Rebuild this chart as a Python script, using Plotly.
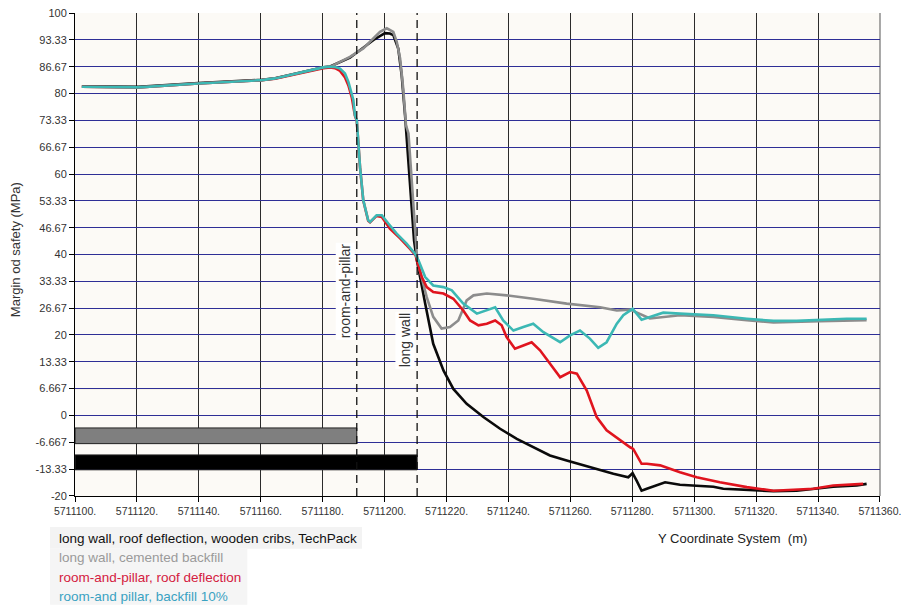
import plotly.graph_objects as go

# ---------------- data ----------------
BLACK_X = [5711102.2, 5711120.5, 5711139.8, 5711160.3, 5711164.6, 5711172.0, 5711180.2, 5711182.4,
           5711188.8, 5711196.4, 5711200.1, 5711201.7, 5711202.8, 5711204.4, 5711205.5, 5711206.6,
           5711208.2, 5711209.5, 5711210.4, 5711211.4, 5711213.1, 5711215.7, 5711219.0, 5711222.2,
           5711226.5, 5711231.9, 5711237.3, 5711242.7, 5711248.0, 5711253.4, 5711258.8, 5711264.2,
           5711269.6, 5711273.9, 5711278.7, 5711280.1, 5711281.4, 5711283.0, 5711284.7, 5711290.6,
           5711295.4, 5711299.7, 5711306.2, 5711309.4, 5711317.0, 5711325.6, 5711333.1, 5711339.6,
           5711344.9, 5711352.5, 5711355.7]
BLACK_Y = [81.8, 81.7, 82.6, 83.4, 83.8, 85.1, 86.5, 86.7,
           88.9, 93.3, 95.0, 94.9, 94.5, 91.2, 84.6, 74.6,
           58.5, 43.5, 38.6, 34.4, 27.8, 17.8, 11.2, 6.6,
           2.9, -0.4, -3.3, -5.8, -7.9, -9.95, -11.2, -12.4,
           -13.7, -14.5, -15.35, -14.35, -16.2, -18.7, -18.2, -16.6,
           -17.2, -17.4, -17.7, -18.2, -18.5, -18.8, -18.7, -18.2,
           -17.7, -17.4, -17.0]

GRAY_X = [5711102.2, 5711120.5, 5711139.8, 5711160.3, 5711164.6, 5711172.0, 5711180.2, 5711182.4,
          5711188.8, 5711193.1, 5711196.4, 5711198.5, 5711200.7, 5711202.8, 5711203.9, 5711205.0,
          5711206.0, 5711206.9, 5711207.7, 5711208.8, 5711209.8, 5711210.4, 5711211.2, 5711213.6,
          5711215.7, 5711218.4, 5711221.1, 5711223.8, 5711226.5, 5711228.7, 5711233.0, 5711239.4,
          5711248.0, 5711258.8, 5711269.6, 5711275.0, 5711279.3, 5711285.7, 5711295.4, 5711306.2,
          5711317.0, 5711325.6, 5711340.6, 5711355.7]
GRAY_Y = [81.67, 81.52, 82.51, 83.33, 83.76, 85.1, 86.49, 86.64,
          89.1, 91.2, 93.7, 95.35, 96.2, 95.3, 92.9, 88.7,
          81.3, 72.1, 70.1, 57.6, 45.2, 40.0, 36.5, 29.4,
          24.5, 21.6, 22.0, 23.6, 28.6, 29.85, 30.3, 29.85,
          29.0, 27.8, 26.9, 26.1, 26.3, 24.1, 24.9, 24.5,
          23.7, 23.1, 23.4, 23.7]

RED_X = [5711102.2, 5711120.5, 5711139.8, 5711160.3, 5711164.6, 5711172.0, 5711180.2, 5711182.4,
         5711184.0, 5711185.6, 5711187.2, 5711188.3, 5711189.4, 5711190.4, 5711191.0, 5711192.05,
         5711193.1, 5711194.7, 5711195.3, 5711197.4, 5711199.1, 5711201.7, 5711205.0, 5711208.2,
         5711210.0, 5711210.4, 5711212.0, 5711213.6, 5711215.7, 5711219.0, 5711222.2, 5711225.4,
         5711227.6, 5711230.3, 5711233.0, 5711235.7, 5711237.8, 5711239.4, 5711242.1, 5711244.8,
         5711247.5, 5711250.2, 5711253.4, 5711256.7, 5711259.9, 5711262.1, 5711265.3, 5711268.5,
         5711271.7, 5711276.0, 5711279.3, 5711280.3, 5711283.0, 5711284.7, 5711289.0, 5711295.4,
         5711300.8, 5711308.3, 5711317.0, 5711325.6, 5711329.9, 5711338.5, 5711344.9, 5711354.6]
RED_Y = [81.67, 81.5, 82.5, 83.33, 83.7, 85.0, 86.3, 86.5,
         86.3, 85.6, 84.0, 82.0, 79.0, 74.5, 73.2, 61.7,
         53.4, 48.4, 48.0, 49.6, 49.3, 46.4, 44.0, 41.4,
         39.8, 38.6, 34.4, 31.9, 30.7, 30.3, 29.0, 26.1,
         23.6, 22.4, 22.8, 23.6, 22.4, 19.5, 16.6, 17.4,
         18.2, 16.2, 12.9, 9.5, 10.8, 10.4, 6.2, -0.4,
         -3.7, -6.2, -7.9, -8.3, -12.0, -12.0, -12.4, -14.1,
         -15.35, -16.6, -17.8, -18.7, -18.5, -18.2, -17.4, -17.0]

TEAL_X = [5711102.2, 5711120.5, 5711139.8, 5711160.3, 5711164.6, 5711172.0, 5711180.2, 5711182.4,
          5711184.0, 5711185.6, 5711187.2, 5711188.3, 5711189.4, 5711189.9, 5711190.4, 5711191.0,
          5711192.05, 5711193.1, 5711194.7, 5711195.3, 5711197.4, 5711199.1, 5711201.2, 5711203.9,
          5711207.1, 5711209.8, 5711210.9, 5711213.1, 5711215.7, 5711219.0, 5711221.7, 5711225.4,
          5711229.8, 5711233.0, 5711235.7, 5711238.3, 5711241.6, 5711244.8, 5711248.0, 5711251.3,
          5711256.7, 5711259.9, 5711263.1, 5711266.3, 5711269.0, 5711271.7, 5711275.0, 5711277.1,
          5711280.1, 5711281.4, 5711283.0, 5711285.7, 5711290.0, 5711295.4, 5711306.2, 5711317.0,
          5711325.6, 5711333.1, 5711340.6, 5711349.3, 5711355.7]
TEAL_Y = [81.67, 81.52, 82.51, 83.33, 83.76, 85.1, 86.49, 86.64,
          86.6, 86.2, 85.0, 82.9, 79.6, 78.4, 74.6, 73.4,
          61.8, 53.5, 48.5, 48.1, 49.75, 49.75, 47.7, 45.2,
          42.7, 40.2, 38.6, 34.4, 32.3, 31.9, 31.1, 27.8,
          25.3, 26.1, 26.9, 23.6, 21.1, 22.0, 22.8, 20.7,
          18.2, 19.9, 21.1, 19.1, 16.8, 18.2, 22.8, 24.9,
          26.5, 25.3, 23.8, 24.45, 25.55, 25.3, 24.9, 24.05,
          23.5, 23.5, 23.8, 24.05, 24.05]

SERIES_NAMES = ["long wall, roof deflection, wooden cribs, TechPack",
                "long wall, cemented backfill",
                "room-and-pillar, roof deflection",
                "room-and pillar, backfill 10%"]

# excavation bars (room-and-pillar, long wall)
BAR_LABELS = ["room-and-pillar", "long wall"]
BAR_START = [5711100.0, 5711100.0]
BAR_END = [5711191.0, 5711210.5]
BAR_TOP = [-3.1, -9.8]
BAR_BOTTOM = [-7.0, -13.5]

X_TICKS = [5711100, 5711120, 5711140, 5711160, 5711180, 5711200, 5711220,
           5711240, 5711260, 5711280, 5711300, 5711320, 5711340, 5711360]
X_TICKTEXT = ["5711100.", "5711120.", "5711140.", "5711160.", "5711180.", "5711200.", "5711220.",
              "5711240.", "5711260.", "5711280.", "5711300.", "5711320.", "5711340.", "5711360."]
Y_TICKS = [-20, -13.333, -6.667, 0, 6.667, 13.333, 20, 26.667, 33.333, 40,
           46.667, 53.333, 60, 66.667, 73.333, 80, 86.667, 93.333, 100]
Y_TICKTEXT = ["-20", "-13.33", "-6.667", "0", "6.667", "13.33", "20", "26.67", "33.33", "40",
              "46.67", "53.33", "60", "66.67", "73.33", "80", "86.67", "93.33", "100"]

# ---------------- styling ----------------
LINE_COLORS = ["#0a0a0a", "#8c8c8c", "#e0141e", "#3cb8b4"]
TEXT_COLORS = ["#111111", "#9a9a9a", "#d42040", "#3aa2c2"]
BAR_COLORS = ["#7f7f7f", "#000000"]
FONT = "Liberation Sans, Arial, sans-serif"

fig = go.Figure()

for i in range(2):
    fig.add_trace(go.Bar(
        orientation="h",
        y=[(BAR_TOP[i] + BAR_BOTTOM[i]) / 2],
        x=[BAR_END[i] - BAR_START[i]],
        base=[BAR_START[i]],
        width=[BAR_TOP[i] - BAR_BOTTOM[i]],
        marker=dict(color=BAR_COLORS[i], line=dict(color="#222222", width=1)),
        showlegend=False, hoverinfo="skip",
    ))

for xs, ys, col, nm in zip([BLACK_X, GRAY_X, RED_X, TEAL_X],
                           [BLACK_Y, GRAY_Y, RED_Y, TEAL_Y],
                           LINE_COLORS, SERIES_NAMES):
    fig.add_trace(go.Scatter(x=xs, y=ys, mode="lines", name=nm,
                             line=dict(color=col, width=2.6), showlegend=False))

shapes = []
# lighter special gridlines
shapes.append(dict(type="line", xref="paper", x0=0, x1=1, yref="y", y0=80, y1=80,
                   line=dict(color="#a8a8c4", width=1), layer="below"))
shapes.append(dict(type="line", xref="paper", x0=0, x1=1, yref="y", y0=6.667, y1=6.667,
                   line=dict(color="#cbbb8c", width=1), layer="below"))
# right border of the plot area
shapes.append(dict(type="line", xref="paper", x0=1, x1=1, yref="paper", y0=0, y1=1,
                   line=dict(color="#555555", width=1), layer="below"))
# dashed boundary lines
for xe in BAR_END:
    shapes.append(dict(type="line", xref="x", x0=xe, x1=xe, yref="paper", y0=0, y1=1,
                       line=dict(color="#111111", width=1.3, dash="8px,5px"), layer="above"))
# legend background boxes
shapes.append(dict(type="rect", xref="paper", yref="paper", x0=-0.031, x1=0.3565, y0=-0.0642, y1=-0.109,
                   fillcolor="#f3f3f3", line=dict(width=0), layer="below"))
shapes.append(dict(type="rect", xref="paper", yref="paper", x0=-0.031, x1=0.214, y0=-0.109, y1=-0.225,
                   fillcolor="#f5f5f5", line=dict(width=0), layer="below"))

annotations = []
# vertical labels by dashed lines
label_y = [30.8, 18.7]
for xe, lab, ly in zip(BAR_END, BAR_LABELS, label_y):
    annotations.append(dict(x=xe, y=ly, xref="x", yref="y", text=lab, showarrow=False,
                            textangle=-90, xshift=-12, bgcolor="white",
                            xanchor="center", yanchor="middle",
                            font=dict(family=FONT, size=14, color="#333333")))
# axis titles
annotations.append(dict(x=-0.0745, y=0.509, xref="paper", yref="paper",
                        text="Margin od safety (MPa)", showarrow=False, textangle=-90,
                        xanchor="center", yanchor="middle",
                        font=dict(family=FONT, size=13, color="#333333")))
annotations.append(dict(x=0.817, y=-0.087, xref="paper", yref="paper",
                        text="Y Coordinate System  (m)", showarrow=False,
                        xanchor="center", yanchor="middle",
                        font=dict(family=FONT, size=13, color="#222222")))
# legend text
leg_y = [-0.089, -0.128, -0.168, -0.209]
for nm, col, ly in zip(SERIES_NAMES, TEXT_COLORS, leg_y):
    annotations.append(dict(x=-0.0224, y=ly, xref="paper", yref="paper", text=nm,
                            showarrow=False, xanchor="left", yanchor="middle",
                            font=dict(family=FONT, size=13.5, color=col)))

fig.update_layout(
    width=901, height=609,
    margin=dict(l=75, r=21, t=13, b=113, autoexpand=False),
    paper_bgcolor="white", plot_bgcolor="#fcfaf6",
    barmode="overlay", showlegend=False,
    shapes=shapes, annotations=annotations,
    xaxis=dict(range=[5711099.98, 5711360.02], tickmode="array", tickvals=X_TICKS, ticktext=X_TICKTEXT,
               showgrid=True, gridcolor="#2b2b2b", gridwidth=1, zeroline=False,
               showline=True, linecolor="#000000", linewidth=1, automargin=False,
               ticks="outside", ticklen=5, tickcolor="#000000", ticklabeloverflow="allow",
               tickfont=dict(family=FONT, size=10.5, color="#333333")),
    yaxis=dict(range=[-20.01, 100.01], tickmode="array", tickvals=Y_TICKS, ticktext=Y_TICKTEXT,
               showgrid=True, gridcolor="#2e2e96", gridwidth=1, zeroline=False,
               showline=True, linecolor="#000000", linewidth=1, automargin=False,
               ticks="outside", ticklen=5, tickcolor="#000000",
               tickfont=dict(family=FONT, size=11, color="#333333")),
)

fig.write_html("out.html")
